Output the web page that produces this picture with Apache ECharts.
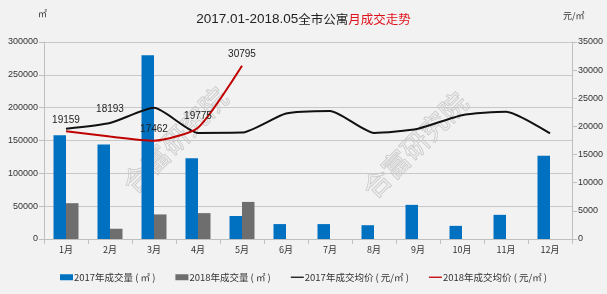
<!DOCTYPE html>
<html><head><meta charset="utf-8">
<script src="https://cdn.jsdelivr.net/npm/echarts@6/dist/echarts.min.js"></script>
<style>html,body{margin:0;padding:0;background:#f2f2f2}#c{width:607px;height:294px}</style>
</head><body><div id="c"></div>
<script>
const months = ['1月','2月','3月','4月','5月','6月','7月','8月','9月','10月','11月','12月'];
const vol2017 = [158000,144000,280000,123000,35000,22700,22700,21000,52000,20000,36800,126800];
const vol2018 = [54500,15600,37400,39400,56500,null,null,null,null,null,null,null];
const price2017 = [19600,20600,23300,18850,18900,22300,22750,18850,19600,22000,22600,18750];
const price2018 = [19159,18193,17462,19775,30795];
const leftTicks = [0,300000,50000];
const rightTicks = [0,35000,5000];

const narrow = "'Liberation Sans Narrow','Liberation Sans',sans-serif";
const cjk = "'Noto Sans CJK SC',sans-serif";
const lineIcon = 'path://M0,0 L20,0 L20,2 L0,2 Z';
const chart = echarts.init(document.getElementById('c'));
chart.setOption({
  backgroundColor:'#f2f2f2',
  animation:false,
  title:{
    text:'{n|2017.01-2018.05}{a|全市公寓}{b|月成交走势}',
    left:'center', top:7,
    textStyle:{fontWeight:'normal',rich:{
      n:{fontSize:13.5,color:'#222',fontFamily:narrow,fontWeight:'normal'},
      a:{fontSize:12.5,color:'#222',fontFamily:cjk,fontWeight:'normal'},
      b:{fontSize:12.5,color:'#e0101a',fontFamily:cjk,fontWeight:'normal'}
    }}
  },
  graphic:[
    {type:'text',left:38,top:9,style:{text:'㎡',fontSize:9,fill:'#333',fontFamily:cjk}},
    {type:'text',left:563,top:11,style:{text:'元/㎡',fontSize:9,fill:'#333',fontFamily:cjk}},
    {type:'text',x:175,y:140,rotation:Math.PI/4,style:{text:'合富研究院',fontSize:27,fill:'rgba(255,255,255,0.3)',stroke:'rgba(160,160,160,0.55)',lineWidth:1,fontFamily:cjk,align:'center',verticalAlign:'middle'}},
    {type:'text',x:415,y:145,rotation:Math.PI/4,style:{text:'合富研究院',fontSize:27,fill:'rgba(255,255,255,0.3)',stroke:'rgba(160,160,160,0.55)',lineWidth:1,fontFamily:cjk,align:'center',verticalAlign:'middle'}}
  ],
  legend:{
    bottom:7, left:55, itemGap:20, itemWidth:13, itemHeight:6,
    textStyle:{fontSize:9.5,color:'#333',fontFamily:cjk,padding:[0,0,0,-4]},
    data:[
      {name:'2017年成交量 ( ㎡ )',icon:'rect'},
      {name:'2018年成交量 ( ㎡ )',icon:'rect'},
      {name:'2017年成交均价 ( 元/㎡ )',icon:lineIcon,itemStyle:{color:'#111'}},
      {name:'2018年成交均价 ( 元/㎡ )',icon:lineIcon,itemStyle:{color:'#c00000'}}
    ]
  },
  grid:{left:44,right:35,top:42,bottom:55},
  xAxis:{
    type:'category', data:months, boundaryGap:true,
    axisLine:{lineStyle:{color:'#bfbfbf'}},
    axisTick:{show:true,lineStyle:{color:'#bfbfbf'}},
    axisLabel:{fontSize:9,color:'#333',fontFamily:cjk,margin:6}
  },
  yAxis:[
    {type:'value',min:leftTicks[0],max:leftTicks[1],interval:leftTicks[2],
     axisLine:{show:true,lineStyle:{color:'#bfbfbf'}},axisTick:{show:true,lineStyle:{color:'#bfbfbf'}},
     splitLine:{lineStyle:{color:'#c8c8c8'}},
     axisLabel:{fontSize:9,color:'#333',fontFamily:narrow,margin:6,formatter:v=>String(v)}},
    {type:'value',min:rightTicks[0],max:rightTicks[1],interval:rightTicks[2],
     axisLine:{show:true,lineStyle:{color:'#bfbfbf'}},axisTick:{show:true,lineStyle:{color:'#bfbfbf'}},
     splitLine:{show:false},
     axisLabel:{fontSize:9,color:'#333',fontFamily:narrow,margin:6,formatter:v=>String(v)}}
  ],
  series:[
    {name:'2017年成交量 ( ㎡ )',type:'bar',data:vol2017,barWidth:12.5,barGap:'0%',itemStyle:{color:'#0070c0'}},
    {name:'2018年成交量 ( ㎡ )',type:'bar',data:vol2018,barWidth:12.5,barGap:'0%',itemStyle:{color:'#6e6e6e'}},
    {name:'2017年成交均价 ( 元/㎡ )',type:'line',yAxisIndex:1,data:price2017,smooth:0.2,showSymbol:false,
     lineStyle:{color:'#111',width:2},itemStyle:{color:'#111'}},
    {name:'2018年成交均价 ( 元/㎡ )',type:'line',yAxisIndex:1,smooth:0.2,symbol:'circle',symbolSize:0.1,showSymbol:true,
     data:price2018.map((v,i)=>i===1?{value:v,label:{show:true,position:'top',distance:22,offset:[-5,0]}}:v),
     lineStyle:{color:'#c00000',width:2},itemStyle:{color:'#c00000'},
     label:{show:true,position:'top',distance:6,fontSize:10,color:'#222',fontFamily:narrow,formatter:p=>String(p.value)},
     labelLayout:{hideOverlap:false}}
  ]
});
</script></body></html>
